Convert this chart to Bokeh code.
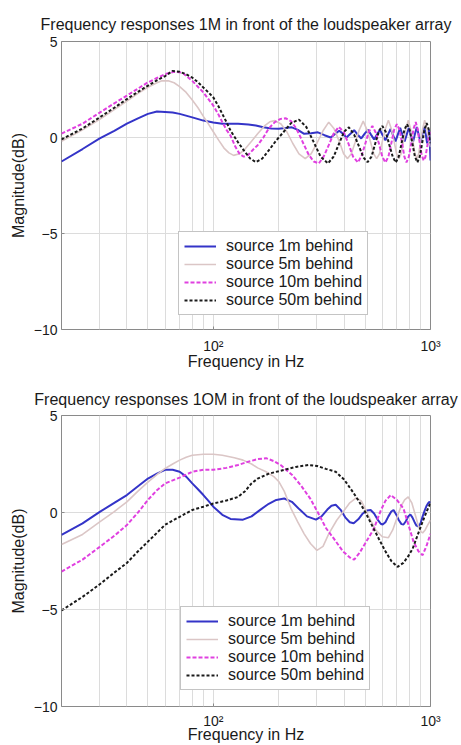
from bokeh.plotting import figure
from bokeh.layouts import column
from bokeh.models import FixedTicker, Legend, LegendItem, Range1d
from bokeh.embed import file_html
from bokeh.resources import INLINE

FONT = "Liberation Sans"

# ---------------- data: top panel (1 m in front) ----------------
f_top_1m = [20, 25, 30, 35, 40, 45, 50, 55, 60, 65, 70, 80, 90, 100, 110, 120, 130, 145, 157, 170, 185,
            200, 215, 230, 245, 262, 282, 303, 325, 347, 365, 380, 395, 410, 428, 445, 462, 480, 498,
            515, 532, 550, 567, 585, 602, 620, 637, 655, 672, 690, 707, 725, 742, 760, 777, 795, 812,
            830, 847, 865, 882, 900, 917, 935, 950, 965, 975, 985, 993, 1000]
db_top_1m = [-1.25, -0.6, -0.05, 0.35, 0.72, 1.0, 1.23, 1.35, 1.33, 1.3, 1.23, 1.05, 0.88, 0.78, 0.72,
             0.71, 0.72, 0.68, 0.62, 0.53, 0.47, 0.45, 0.49, 0.53, 0.4, 0.19, 0.22, 0.27, 0.12, 0.0,
             0.2, 0.35, 0.2, 0.0, 0.2, 0.38, 0.15, -0.05, 0.2, 0.4, 0.15, -0.1, 0.15, 0.4, 0.12, -0.15,
             0.15, 0.45, 0.12, -0.2, 0.15, 0.5, 0.15, -0.2, 0.15, 0.5, 0.13, -0.25, 0.15, 0.55, 0.15,
             -0.25, 0.15, 0.55, 0.2, -0.3, 0.1, 0.4, -0.3, -1.2]

f_top_5m = [20, 25, 30, 35, 40, 45, 50, 55, 58, 62, 66, 70, 75, 80, 85, 90, 95, 100, 106, 112, 118, 124,
            132, 140, 150, 160, 172, 182, 192, 205, 218, 232, 248, 265, 282, 300, 320, 340, 360, 380,
            398, 415, 432, 450, 470, 490, 510, 530, 548, 565, 582, 600, 620, 640, 660, 680, 698, 715,
            732, 750, 770, 790, 810, 830, 848, 865, 882, 900, 920, 940, 960, 980, 1000]
db_top_5m = [-0.2, 0.4, 0.95, 1.45, 1.9, 2.3, 2.62, 2.85, 2.95, 2.95, 2.85, 2.65, 2.35, 1.95, 1.55, 1.1,
             0.7, 0.3, -0.15, -0.55, -0.8, -0.93, -0.85, -0.6, -0.2, 0.2, 0.6, 0.82, 0.88, 0.7, 0.3,
             -0.3, -0.85, -1.1, -0.85, -0.3, 0.35, 0.8, 0.45, -0.2, -0.85, -1.1, -0.85, -0.25, 0.4,
             0.85, 0.4, -0.25, -0.85, -1.1, -0.85, -0.2, 0.45, 0.9, 0.45, -0.2, -0.85, -1.1, -0.85,
             -0.2, 0.45, 0.9, 0.45, -0.2, -0.85, -1.1, -0.85, -0.2, 0.45, 0.9, 0.5, -0.1, -0.5]

f_top_10m = [20, 25, 30, 35, 40, 45, 50, 55, 60, 66, 72, 80, 90, 100, 105, 110, 115, 120, 126, 132, 138,
             145, 152, 160, 170, 180, 192, 204, 216, 228, 240, 250, 262, 275, 290, 306, 322, 340, 358,
             378, 398, 420, 440, 463, 482, 500, 520, 540, 560, 580, 600, 620, 640, 660, 680, 700, 720,
             740, 758, 775, 795, 815, 835, 855, 872, 890, 910, 930, 948, 965, 985, 1000]
db_top_10m = [0.2, 0.72, 1.3, 1.78, 2.18, 2.55, 2.87, 3.1, 3.3, 3.42, 3.38, 2.95, 2.35, 1.66, 1.25, 0.8,
              0.4, 0.1, -0.45, -0.85, -1.0, -0.9, -0.65, -0.4, 0.0, 0.47, 0.8, 0.97, 1.0, 0.85, 0.5,
              0.1, -0.4, -0.9, -1.25, -1.35, -1.0, -0.4, 0.2, 0.55, 0.3, -0.35, -1.0, -1.3, -0.95,
              -0.35, 0.3, 0.6, 0.25, -0.35, -1.0, -1.3, -1.0, -0.3, 0.4, 0.7, 0.4, -0.3, -1.0, -1.3,
              -1.0, -0.3, 0.45, 0.8, 0.45, -0.2, -0.9, -1.2, -1.0, -0.5, 0.1, 0.3]

f_top_50m = [20, 25, 30, 35, 40, 45, 50, 55, 60, 65, 70, 75, 80, 85, 90, 95, 100, 105, 110, 115, 120,
             130, 140, 148, 157, 168, 180, 195, 210, 228, 248, 268, 290, 312, 337, 358, 380, 400, 421,
             445, 470, 492, 513, 535, 557, 580, 600, 622, 645, 670, 692, 714, 736, 758, 780, 802, 825,
             848, 870, 892, 915, 938, 960, 980, 1000]
db_top_50m = [-0.1, 0.47, 1.05, 1.55, 2.0, 2.38, 2.7, 2.98, 3.2, 3.47, 3.42, 3.3, 3.12, 2.88, 2.6, 2.35,
              2.09, 1.68, 1.23, 0.8, 0.36, -0.25, -0.76, -1.1, -1.28, -1.1, -0.67, -0.15, 0.27, 0.75,
              0.93, 0.55, -0.24, -1.0, -1.35, -1.0, -0.3, 0.3, 0.53, 0.15, -0.5, -1.05, -1.28, -1.0,
              -0.3, 0.35, 0.6, 0.3, -0.35, -1.0, -1.3, -1.0, -0.3, 0.4, 0.7, 0.4, -0.3, -1.0, -1.3,
              -1.0, -0.3, 0.4, 0.75, 0.45, -0.3]

# ---------------- data: bottom panel (10 m in front) ----------------
f_bot_1m = [20, 25, 30, 35, 40, 45, 50, 55, 60, 65, 70, 75, 80, 85, 90, 95, 100, 110, 120, 137, 150, 165,
            180, 195, 212, 230, 250, 270, 297, 315, 335, 350, 366, 385, 405, 425, 443, 465, 488, 510,
            530, 550, 570, 590, 602, 620, 640, 660, 676, 695, 715, 735, 751, 770, 790, 808, 825, 845,
            862, 880, 900, 920, 940, 960, 975, 990, 1000]
db_bot_1m = [-1.15, -0.56, 0.03, 0.5, 0.9, 1.35, 1.75, 2.0, 2.2, 2.2, 2.1, 1.85, 1.5, 1.2, 0.9, 0.6, 0.3,
             -0.12, -0.33, -0.37, -0.2, 0.15, 0.45, 0.65, 0.72, 0.55, 0.15, -0.2, -0.37, -0.2, 0.15,
             0.35, 0.4, 0.15, -0.25, -0.5, -0.55, -0.35, -0.05, 0.1, 0.13, -0.05, -0.35, -0.58, -0.62,
             -0.5, -0.2, 0.05, 0.13, -0.1, -0.4, -0.6, -0.62, -0.45, -0.2, -0.1, -0.25, -0.5, -0.68,
             -0.72, -0.55, -0.2, 0.1, 0.35, 0.48, 0.55, 0.5]

f_bot_5m = [20, 25, 30, 35, 40, 45, 50, 55, 60, 65, 70, 75, 80, 90, 100, 110, 125, 137, 150, 160, 175, 190,
            200, 212, 228, 245, 262, 280, 300, 320, 340, 370, 400, 425, 455, 480, 500, 530, 560, 600,
            640, 670, 700, 730, 760, 790, 820, 850, 880, 905, 920, 945, 970, 1000]
db_bot_5m = [-1.65, -1.13, -0.48, 0.05, 0.55, 1.1, 1.57, 1.95, 2.27, 2.5, 2.7, 2.85, 2.95, 3.0, 3.0,
             2.95, 2.82, 2.7, 2.5, 2.3, 2.1, 1.85, 1.6, 1.1, 0.2, -0.5, -1.1, -1.6, -1.95, -1.75, -1.1,
             -0.4, 0.1, 0.5, 0.75, 0.6, 0.2, -0.4, -0.9, -1.25, -1.3, -0.9, -0.3, 0.3, 0.65, 0.8, 0.5,
             -0.1, -0.7, -1.0, -1.05, -0.9, -0.65, -0.4]

f_bot_10m = [20, 25, 30, 35, 40, 45, 50, 55, 60, 70, 80, 90, 100, 115, 130, 145, 160, 175, 190, 205, 230,
             253, 280, 303, 330, 359, 395, 430, 445, 470, 500, 548, 590, 620, 656, 700, 751, 790, 835,
             880, 920, 960, 1000]
db_bot_10m = [-3.05, -2.43, -1.77, -1.2, -0.65, 0.0, 0.65, 1.15, 1.5, 1.8, 2.1, 2.2, 2.2, 2.3, 2.45, 2.62,
              2.75, 2.8, 2.65, 2.43, 1.95, 1.4, 0.7, 0.0, -0.8, -1.35, -2.0, -2.37, -2.43, -2.1, -1.6,
              -0.85, 0.1, 0.6, 0.9, 0.65, 0.2, -0.6, -1.5, -2.0, -2.2, -1.7, -1.1]

f_bot_50m = [20, 25, 30, 35, 40, 45, 50, 55, 60, 70, 80, 90, 100, 115, 130, 140, 150, 160, 180, 212, 240,
             275, 300, 330, 366, 400, 439, 470, 502, 540, 578, 620, 660, 705, 750, 790, 828, 870, 920,
             960, 1000]
db_bot_50m = [-5.05, -4.35, -3.7, -3.1, -2.6, -2.0, -1.5, -1.05, -0.63, -0.22, 0.13, 0.3, 0.46, 0.62,
              0.8, 1.1, 1.5, 1.75, 2.0, 2.2, 2.35, 2.45, 2.4, 2.25, 2.1, 1.7, 1.06, 0.55, 0.0, -0.7,
              -1.35, -2.0, -2.5, -2.8, -2.6, -2.25, -1.86, -1.2, -0.47, 0.05, 0.5]

labels = ["source 1m behind", "source 5m behind", "source 10m behind", "source 50m behind"]
y_ticks = [-10, -5, 0, 5]
x_major = [100, 1000]
x_minor = [20, 30, 40, 50, 60, 70, 80, 90, 200, 300, 400, 500, 600, 700, 800, 900]
x_major_labels = {100: "10²", 1000: "10³"}

styles = [
    dict(line_color="#3434c8", line_width=2.0, line_dash="solid"),
    dict(line_color="#dbc6c6", line_width=1.6, line_dash="solid"),
    dict(line_color="#e040e0", line_width=2.0, line_dash="4 2"),
    dict(line_color="#1a1a1a", line_width=2.0, line_dash="3 2"),
]


def make_fig(title, height, series, legend_loc, min_top, title_standoff,
             lab_standoff, axlab_standoff):
    p = figure(width=461, height=height, x_axis_type="log",
               x_range=Range1d(20, 1000), y_range=Range1d(-10, 5),
               output_backend="svg", toolbar_location=None,
               min_border_left=61, min_border_right=31, min_border_top=min_top,
               min_border_bottom=10, title=title)
    p.background_fill_color = "white"
    p.border_fill_color = "white"
    p.outline_line_color = "#8a8a8a"
    p.outline_line_width = 1

    p.title.text_font = FONT
    p.title.text_font_size = "16px"
    p.title.text_font_style = "normal"
    p.title.text_color = "#1a1a1a"
    p.title.align = "center"
    p.title.standoff = title_standoff

    xt = FixedTicker(ticks=x_major, minor_ticks=x_minor)
    p.xaxis.ticker = xt
    p.xgrid.ticker = xt
    p.xaxis.major_label_overrides = x_major_labels
    p.yaxis.ticker = FixedTicker(ticks=y_ticks)

    for ax in (p.xaxis, p.yaxis):
        ax.axis_line_color = None
        ax.major_tick_line_color = "#8a8a8a"
        ax.major_tick_in = 3
        ax.major_tick_out = 0
        ax.minor_tick_line_color = None
        ax.major_label_text_font = FONT
        ax.major_label_text_font_size = "14px"
        ax.major_label_text_color = "#1a1a1a"
        ax.axis_label_text_font = FONT
        ax.axis_label_text_font_size = "16px"
        ax.axis_label_text_font_style = "normal"
        ax.axis_label_text_color = "#1a1a1a"
    p.xaxis.axis_label = "Frequency in Hz"
    p.yaxis.axis_label = "Magnitude(dB)"
    p.xaxis.major_label_standoff = lab_standoff
    p.xaxis.axis_label_standoff = axlab_standoff
    p.yaxis.major_label_standoff = 4
    p.yaxis.axis_label_standoff = 4

    p.xgrid.grid_line_color = "#dcdcdc"
    p.xgrid.minor_grid_line_color = "#dcdcdc"
    p.ygrid.grid_line_color = "#dcdcdc"

    items = []
    for (fx, dbv), lab, st in zip(series, labels, styles):
        r = p.line(fx, dbv, **st)
        items.append(LegendItem(label=lab, renderers=[r]))

    leg = Legend(items=items, location=legend_loc)
    leg.label_text_font = FONT
    leg.label_text_font_size = "16px"
    leg.label_text_line_height = 1.0
    leg.label_text_color = "#1a1a1a"
    leg.border_line_color = "#8a8a8a"
    leg.border_line_width = 1
    leg.background_fill_color = "white"
    leg.background_fill_alpha = 1.0
    leg.padding = 5
    leg.spacing = 0
    leg.margin = 0
    leg.glyph_width = 32
    leg.glyph_height = 16
    leg.label_height = 16
    leg.label_standoff = 10
    p.add_layout(leg)
    return p


p1 = make_fig("Frequency responses 1M in front of the loudspeaker array", 372,
              [(f_top_1m, db_top_1m), (f_top_5m, db_top_5m),
               (f_top_10m, db_top_10m), (f_top_50m, db_top_50m)],
              (117, 14), 41, 17, 4, -4)
p2 = make_fig("Frequency responses 1OM in front of the loudspeaker array", 373,
              [(f_bot_1m, db_bot_1m), (f_bot_5m, db_bot_5m),
               (f_bot_10m, db_bot_10m), (f_bot_50m, db_bot_50m)],
              (119, 16), 43, 16, 2, -6)

layout = column(p1, p2, spacing=0)
open("out.html", "w").write(file_html(layout, INLINE))
